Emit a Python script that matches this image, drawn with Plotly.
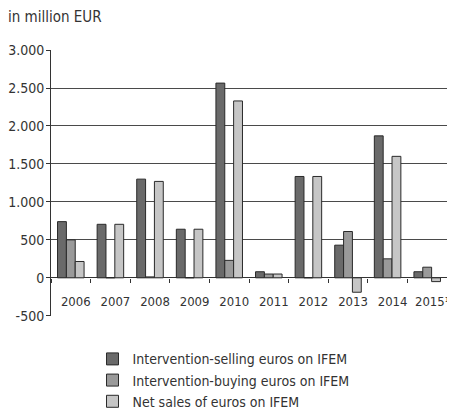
import plotly.graph_objects as go

years = ["2006", "2007", "2008", "2009", "2010", "2011", "2012", "2013", "2014", "2015¹"]
selling = [740, 705, 1300, 640, 2565, 80, 1335, 430, 1870, 80]
buying = [500, 0, 12, 0, 230, 50, 0, 610, 250, 140]
net_sales = [215, 705, 1270, 640, 2330, 50, 1335, -190, 1600, -50]

series_names = ["Intervention-selling euros on IFEM",
                "Intervention-buying euros on IFEM",
                "Net sales of euros on IFEM"]
colors = ["#6a6a6a", "#9a9a9a", "#c6c6c6"]

y_ticks = [-500, 0, 500, 1000, 1500, 2000, 2500, 3000]
y_tick_text = ["-500", "0", "500", "1.000", "1.500", "2.000", "2.500", "3.000"]

FONT = "DejaVu Sans Condensed, Roboto, sans-serif"

fig = go.Figure()
for i, (name, vals) in enumerate(zip(series_names, [selling, buying, net_sales])):
    fig.add_trace(go.Bar(
        x=years, y=vals, name=name,
        marker=dict(color=colors[i], line=dict(color="#2a2a2a", width=1)),
        legendgroup=f"g{i}",
    ))

# page body has an 8px margin: figure coordinates are shifted accordingly
L, T, R, B = 43, 42, 16, 111
PW, PH = 455 - L - R, 419 - T - B

ymin, ymax = -500, 3000
fig.update_layout(
    width=455, height=419,
    margin=dict(l=L, r=R, t=T, b=B, autoexpand=False),
    plot_bgcolor="white", paper_bgcolor="white",
    barmode="group", bargap=0.33, bargroupgap=0,
    font=dict(family=FONT, size=14, color="#333333"),
    showlegend=True,
    legend=dict(orientation="v", x=41.5 / PW, xanchor="left", y=-0.1026, yanchor="top",
                font=dict(family=FONT, size=14, color="#333333"),
                tracegroupgap=0, itemclick=False, bgcolor="rgba(0,0,0,0)"),
    xaxis=dict(
        type="category", anchor="free", position=(0 - ymin) / (ymax - ymin),
        automargin=False,
        showline=False, ticks="outside", tickson="boundaries", ticklen=4,
        tickcolor="#333333", tickwidth=1, showgrid=False, tickangle=0,
        ticklabelstandoff=14, ticklabelshift=5, tickfont=dict(size=13, color="#333333"),
    ),
    yaxis=dict(
        range=[ymin - 3, ymax + 1], tickmode="array", tickvals=y_ticks, ticktext=y_tick_text,
        automargin=False,
        showgrid=True, gridcolor="#4a4a4a", gridwidth=1,
        zeroline=True, zerolinecolor="#333333", zerolinewidth=1,
        showline=True, linecolor="#333333", linewidth=1,
        ticks="outside", ticklen=4, tickcolor="#333333",
        ticklabelstandoff=-1,
        tickfont=dict(size=14, color="#333333"),
    ),
    annotations=[dict(text="in million EUR", xref="paper", yref="paper",
                      x=(-2 - L) / PW, y=1 + (T - 9) / PH, xanchor="left", yanchor="middle",
                      showarrow=False, font=dict(size=15, color="#333333"))],
)

fig.write_html("out.html")
